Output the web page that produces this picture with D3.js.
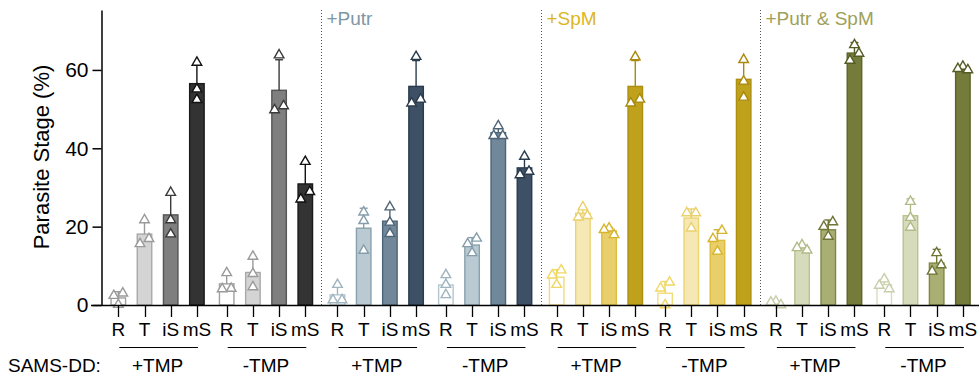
<!DOCTYPE html>
<html lang="en">
<head>
<meta charset="UTF-8">
<script src="https://d3js.org/d3.v7.min.js"></script>
<style>
  body { margin: 0; background: #fff; }
  text { font-family: "Liberation Sans", Arial, sans-serif; }
</style>
</head>
<body>
<div id="chart"></div>
<script>
const width = 979;
const height = 379;

// categories
const stages = ["R", "T", "iS", "mS"];
const tmpLabels = ["+TMP", "-TMP"];
const panelLabels = ["", "+Putr", "+SpM", "+Putr & SpM"];
const yTicks = [0, 20, 40, 60];

// bar means (panel by panel: +TMP R,T,iS,mS then -TMP R,T,iS,mS)
const means = [
  1.8, 18.1, 23.0, 56.5,   5.4, 8.3, 54.8, 30.9,
  2.6, 19.6, 21.4, 55.8,   5.1, 15.3, 44.0, 35.0,
  7.1, 23.4, 18.9, 55.8,   3.0, 22.2, 16.5, 57.6,
  0.5, 14.6, 19.2, 64.3,   5.2, 22.8, 10.7, 60.4
];
// SD (drawn upward only)
const sds = [
  1.6, 3.2, 5.4, 4.9,   2.3, 3.9, 7.8, 5.1,
  2.3, 5.1, 3.4, 6.6,   2.5, 1.9, 1.4, 2.5,
  1.9, 1.4, 0.9, 6.6,   3.0, 2.3, 2.7, 4.8,
  0.5, 0.6, 2.5, 2.7,   1.2, 4.3, 3.5, 0.5
];
// replicates
const points = [
  [3.0, 2.4, 0.1], [21.7, 15.6, 16.9], [28.7, 21.7, 18.1], [61.9, 55.1, 52.4],
  [8.2, 4.1, 4.2], [12.4, 8.0, 4.6], [63.8, 49.8, 50.8], [36.6, 27.0, 28.9],
  [5.2, 1.3, 1.3], [23.7, 21.5, 13.9], [25.0, 21.1, 18.2], [63.4, 51.5, 52.5],
  [7.7, 5.2, 2.6], [17.0, 15.6, 13.3], [45.7, 43.2, 43.2], [37.9, 33.2, 34.1],
  [8.9, 7.6, 5.2], [25.0, 22.4, 22.8], [19.6, 19.2, 17.9], [63.3, 51.5, 52.5],
  [5.8, 4.3, 0.0], [23.5, 23.5, 19.6], [19.0, 16.9, 13.7], [62.6, 57.1, 53.0],
  [0.7, 0.9, 0.0], [14.6, 15.3, 14.0], [21.2, 20.0, 17.5], [66.4, 64.2, 62.4],
  [6.6, 4.1, 5.0], [26.4, 19.8, 22.3], [13.3, 8.6, 10.2], [60.0, 60.9, 60.3]
];

// colours per panel, per stage
const fills = [
  ["#ffffff", "#d4d4d4", "#7f7f7f", "#333333"],
  ["#ffffff", "#b9cad2", "#71889a", "#3e5066"],
  ["#ffffff", "#f5e8b5", "#e8cf6b", "#c0a11b"],
  ["#ffffff", "#d6dbbb", "#a9af73", "#757b3b"]
];
const strokes = [
  ["#a0a0a0", "#a8a8a8", "#555555", "#1a1a1a"],
  ["#b5c6cf", "#8aa1ad", "#4e6577", "#2b3b4e"],
  ["#f2dc7a", "#ecd46e", "#dcbd3e", "#ad8f12"],
  ["#d7dcc0", "#bac193", "#7f8745", "#5d632a"]
];
const inks = [
  ["#9a9a9a", "#9a9a9a", "#3a3a3a", "#111111"],
  ["#9fb4bf", "#869eab", "#4e6577", "#2b3b4e"],
  ["#f0d760", "#ead06a", "#d6b42c", "#a8890c"],
  ["#c8ceaa", "#b3ba88", "#6e7535", "#555b24"]
];
const panelColors = ["#000000", "#7e97a5", "#dcb61e", "#9da15a"];

const bars = means.map((m, i) => ({
  i: i,
  panel: Math.floor(i / 8),
  group: Math.floor(i / 4),
  stage: i % 4,
  mean: m,
  sd: sds[i],
  pts: points[i]
}));

// slot position with small gaps between groups and panels
const groupGap = 0.137;
const panelGap = 0.092;
const slot = d => d.i + d.group * groupGap + d.panel * panelGap;

const x = d3.scaleLinear().domain([0, 1]).range([118.3, 144.5]);
const y = d3.scaleLinear().domain([0, 75.3]).range([305, 10]);
const barW = 14.5;

const svg = d3.select("#chart")
  .append("svg")
  .attr("width", width)
  .attr("height", height);

// dotted separators and panel titles
for (let p = 1; p < 4; p += 1) {
  const a = bars[p * 8 - 1];
  const b = bars[p * 8];
  const sx = Math.round((x(slot(a)) + x(slot(b))) / 2) + 0.5;
  svg.append("line")
    .attr("x1", sx).attr("x2", sx)
    .attr("y1", 10).attr("y2", 305)
    .attr("stroke", "#555")
    .attr("stroke-width", 1)
    .attr("stroke-dasharray", "1,2");
  svg.append("text")
    .attr("x", sx + 5)
    .attr("y", 25)
    .attr("font-size", 19)
    .attr("fill", panelColors[p])
    .text(panelLabels[p]);
}

// bars
svg.selectAll("rect.bar")
  .data(bars)
  .enter()
  .append("rect")
  .attr("class", "bar")
  .attr("x", d => x(slot(d)) - barW / 2)
  .attr("y", d => y(d.mean))
  .attr("width", barW)
  .attr("height", d => y(0) - y(d.mean))
  .attr("fill", d => fills[d.panel][d.stage])
  .attr("stroke", d => strokes[d.panel][d.stage])
  .attr("stroke-width", 1.4);

// error bars (up only)
const err = svg.selectAll("g.err")
  .data(bars)
  .enter()
  .append("g")
  .attr("class", "err")
  .attr("stroke", d => inks[d.panel][d.stage])
  .attr("stroke-width", 1.4);
err.append("line")
  .attr("x1", d => x(slot(d))).attr("x2", d => x(slot(d)))
  .attr("y1", d => y(d.mean)).attr("y2", d => y(d.mean + d.sd));
err.append("line")
  .attr("x1", d => x(slot(d)) - 4).attr("x2", d => x(slot(d)) + 4)
  .attr("y1", d => y(d.mean + d.sd)).attr("y2", d => y(d.mean + d.sd));

// replicate triangles: points closer than ~8.5px vertically are spread sideways
const tri = d3.symbol().type(d3.symbolTriangle).size(40);
const dots = [];
bars.forEach(d => {
  const sorted = d.pts.slice().sort((a, b) => b - a);
  const clusters = [];
  sorted.forEach(v => {
    const last = clusters[clusters.length - 1];
    if (last && y(v) - y(last[last.length - 1]) < 8.5) last.push(v);
    else clusters.push([v]);
  });
  clusters.forEach(c => {
    let offs = [0];
    if (c.length === 2) offs = [4.5, -4.5];
    if (c.length >= 3) offs = [0, -5, 5];
    c.forEach((v, k) => {
      dots.push({ bar: d, cx: x(slot(d)) + offs[k], cy: y(v) });
    });
  });
});
svg.selectAll("path.pt")
  .data(dots)
  .enter()
  .append("path")
  .attr("class", "pt")
  .attr("d", tri)
  .attr("transform", d => `translate(${d.cx},${d.cy})`)
  .attr("fill", "#fff")
  .attr("stroke", d => inks[d.bar.panel][d.bar.stage])
  .attr("stroke-width", 1.4);

// y axis
const yAxis = svg.append("g")
  .attr("transform", "translate(101.5,0)")
  .call(d3.axisLeft(y).tickValues(yTicks).tickSize(9).tickPadding(4).tickSizeOuter(0));
yAxis.select(".domain").attr("stroke", "#000").attr("stroke-width", 1.5);
yAxis.selectAll(".tick line").attr("stroke", "#000").attr("stroke-width", 1.5);
yAxis.selectAll(".tick text")
  .attr("font-size", 21)
  .attr("font-family", "Liberation Sans, Arial, sans-serif")
  .attr("fill", "#000");

svg.append("text")
  .attr("transform", "translate(49,157) rotate(-90)")
  .attr("text-anchor", "middle")
  .attr("font-size", 22)
  .text("Parasite Stage (%)");

// x axis line and ticks
svg.append("line")
  .attr("x1", 91).attr("x2", 979)
  .attr("y1", 305.5).attr("y2", 305.5)
  .attr("stroke", "#000")
  .attr("stroke-width", 1.5);
svg.selectAll("line.xt")
  .data(bars)
  .enter()
  .append("line")
  .attr("class", "xt")
  .attr("x1", d => Math.round(x(slot(d))) + 0.5)
  .attr("x2", d => Math.round(x(slot(d))) + 0.5)
  .attr("y1", 305.5).attr("y2", 317)
  .attr("stroke", "#000")
  .attr("stroke-width", 1.3);
svg.selectAll("text.xl")
  .data(bars)
  .enter()
  .append("text")
  .attr("class", "xl")
  .attr("x", d => x(slot(d)))
  .attr("y", 336)
  .attr("text-anchor", "middle")
  .attr("font-size", 19)
  .text(d => stages[d.stage]);

// group underlines + TMP labels
const groups = d3.range(8).map(g => ({
  g: g,
  first: bars[g * 4],
  last: bars[g * 4 + 3]
}));
svg.selectAll("line.gl")
  .data(groups)
  .enter()
  .append("line")
  .attr("class", "gl")
  .attr("x1", d => x(slot(d.first)) + 1)
  .attr("x2", d => x(slot(d.last)) + 1)
  .attr("y1", 347.5).attr("y2", 347.5)
  .attr("stroke", "#000")
  .attr("stroke-width", 1.2);
svg.selectAll("text.gt")
  .data(groups)
  .enter()
  .append("text")
  .attr("class", "gt")
  .attr("x", d => (x(slot(d.first)) + x(slot(d.last))) / 2)
  .attr("y", 371.5)
  .attr("text-anchor", "middle")
  .attr("font-size", 19)
  .text(d => tmpLabels[d.g % 2]);

svg.append("text")
  .attr("x", 8)
  .attr("y", 371.5)
  .attr("font-size", 19)
  .text("SAMS-DD:");
</script>
</body>
</html>
